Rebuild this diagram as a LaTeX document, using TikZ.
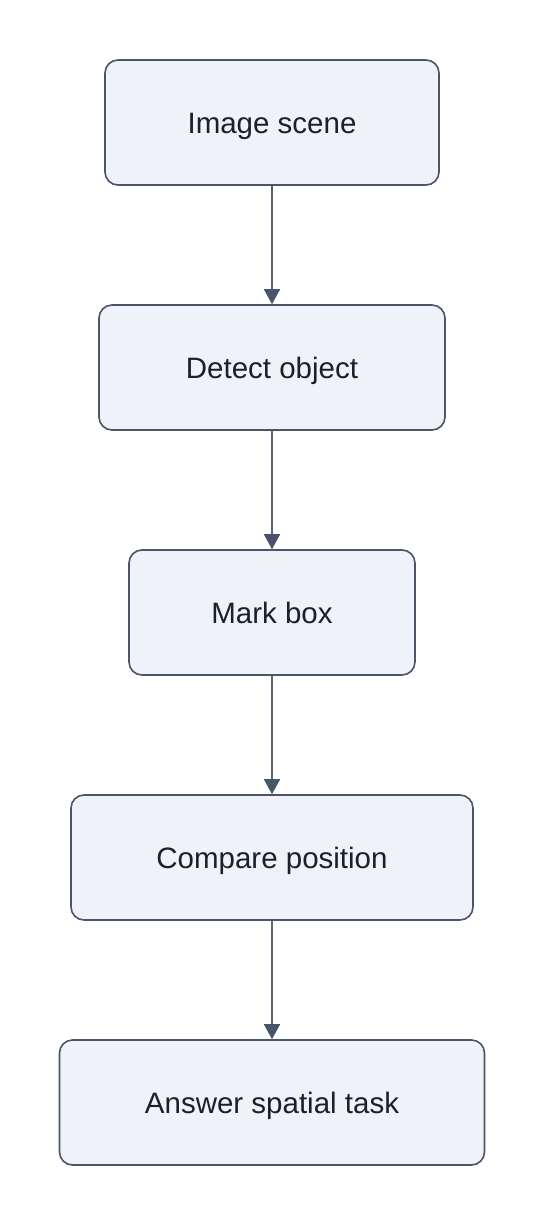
\documentclass[tikz,border=0pt]{standalone}
\usepackage{fontspec}
\setmainfont{Liberation Sans}
\usetikzlibrary{arrows.meta}
\definecolor{boxfill}{HTML}{EFF2F8}
\definecolor{boxdraw}{HTML}{4A5568}
\definecolor{linecol}{HTML}{5A6578}
\definecolor{tipcol}{HTML}{475569}
\definecolor{txt}{HTML}{1A202C}
\begin{document}
\begin{tikzpicture}[x=1pt,y=-1pt,
  stepbox/.style={draw=boxdraw,fill=boxfill,line width=1.6pt,rounded corners=13pt,
    minimum height=125pt,inner sep=0pt,text=txt,font=\fontsize{29.5}{34}\selectfont,
    text height=21pt,text depth=0pt},
  conn/.style={draw=linecol,line width=1.6pt,-{Triangle[length=15pt,width=16pt,color=tipcol]}}]
\useasboundingbox (0,0) rectangle (546,1226);
\node[stepbox,minimum width=334pt] (a) at (272,122.5) {Image scene};
\node[stepbox,minimum width=346pt] (b) at (272,367.5) {Detect object};
\node[stepbox,minimum width=286pt] (c) at (272,612.5) {Mark box};
\node[stepbox,minimum width=402pt] (d) at (272,857.5) {Compare position};
\node[stepbox,minimum width=425pt] (e) at (272,1102.5) {Answer spatial task};
\draw[conn] (a) -- (b);
\draw[conn] (b) -- (c);
\draw[conn] (c) -- (d);
\draw[conn] (d) -- (e);
\end{tikzpicture}
\end{document}
